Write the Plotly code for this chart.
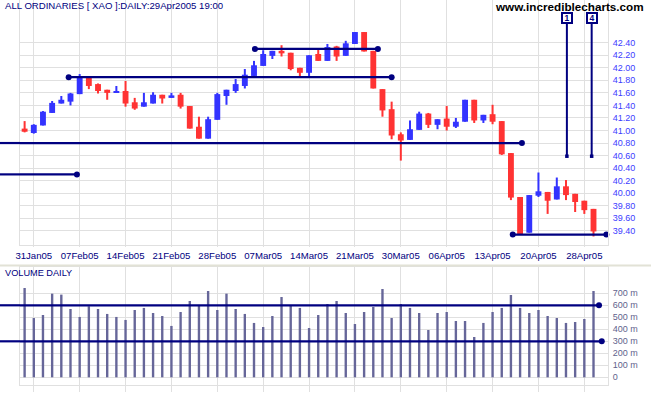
import plotly.graph_objects as go

# ---------------- data ----------------
dates = ["28Jan05", "31Jan05", "01Feb05", "02Feb05", "03Feb05", "04Feb05",
         "07Feb05", "08Feb05", "09Feb05", "10Feb05", "11Feb05",
         "14Feb05", "15Feb05", "16Feb05", "17Feb05", "18Feb05",
         "21Feb05", "22Feb05", "23Feb05", "24Feb05", "25Feb05",
         "28Feb05", "01Mar05", "02Mar05", "03Mar05", "04Mar05",
         "07Mar05", "08Mar05", "09Mar05", "10Mar05", "11Mar05",
         "14Mar05", "15Mar05", "16Mar05", "17Mar05", "18Mar05",
         "21Mar05", "22Mar05", "23Mar05", "24Mar05", "29Mar05",
         "30Mar05", "31Mar05", "01Apr05", "04Apr05", "05Apr05",
         "06Apr05", "07Apr05", "08Apr05", "11Apr05", "12Apr05",
         "13Apr05", "14Apr05", "15Apr05", "18Apr05", "19Apr05",
         "20Apr05", "21Apr05", "22Apr05", "26Apr05", "27Apr05",
         "28Apr05", "29Apr05"]

opens = [41.03, 40.96, 41.08, 41.28, 41.43, 41.46, 41.58, 41.85, 41.74, 41.65, 41.60,
         41.63, 41.45, 41.38, 41.43, 41.57, 41.52, 41.57, 41.39, 41.06, 40.87,
         41.17, 41.55, 41.63, 41.71, 41.87, 42.03, 42.19, 42.27, 42.24, 42.00,
         41.92, 42.22, 42.11, 42.34, 42.19, 42.38, 42.57, 42.27, 41.66, 41.34,
         40.94, 40.85, 41.01, 41.27, 41.09, 41.19, 41.06, 41.14, 41.49, 41.16,
         41.26, 41.15, 40.64, 39.94, 39.37, 39.96, 40.02, 39.90, 40.11, 39.99,
         39.88, 39.75]
highs = [41.15, 41.10, 41.31, 41.47, 41.55, 41.60, 41.90, 41.86, 41.75, 41.65, 41.71,
         41.79, 41.52, 41.60, 41.61, 41.57, 41.60, 41.60, 41.39, 41.22, 41.22,
         41.60, 41.65, 41.82, 41.98, 42.11, 42.28, 42.27, 42.36, 42.24, 42.00,
         42.20, 42.31, 42.38, 42.35, 42.43, 42.57, 42.57, 42.27, 41.66, 41.46,
         40.97, 41.16, 41.30, 41.28, 41.18, 41.39, 41.20, 41.49, 41.49, 41.25,
         41.41, 41.15, 40.64, 39.94, 39.97, 40.33, 40.02, 40.25, 40.21, 39.99,
         39.88, 39.75]
lows = [40.97, 40.95, 41.08, 41.28, 41.43, 41.40, 41.58, 41.66, 41.59, 41.49, 41.60,
        41.38, 41.33, 41.38, 41.43, 41.43, 41.52, 41.35, 41.03, 40.87, 40.87,
        41.17, 41.41, 41.60, 41.67, 41.86, 42.03, 42.14, 42.18, 41.96, 41.86,
        41.86, 42.11, 42.11, 42.11, 42.19, 42.38, 42.26, 41.67, 41.22, 40.86,
        40.52, 40.85, 41.01, 41.04, 41.02, 41.00, 41.04, 41.14, 41.12, 41.12,
        41.10, 40.61, 39.89, 39.34, 39.37, 39.94, 39.67, 39.90, 39.89, 39.70,
        39.67, 39.31]
closes = [40.98, 41.09, 41.30, 41.44, 41.49, 41.59, 41.86, 41.71, 41.63, 41.60, 41.62,
          41.43, 41.35, 41.45, 41.57, 41.51, 41.56, 41.38, 41.03, 40.87, 41.18,
          41.58, 41.65, 41.74, 41.89, 42.04, 42.22, 42.27, 42.23, 41.98, 41.92,
          42.20, 42.11, 42.33, 42.18, 42.39, 42.57, 42.26, 41.67, 41.32, 40.92,
          40.84, 41.02, 41.27, 41.09, 41.18, 41.06, 41.14, 41.49, 41.16, 41.25,
          41.14, 40.62, 39.93, 39.34, 39.97, 40.03, 39.88, 40.11, 39.97, 39.86,
          39.73, 39.39]
volumes_m = [744, 494, 519, 697, 689, 569, 503, 592, 569, 528, 503,
             478, 561, 578, 536, 511, 428, 544, 636, 603, 719,
             561, 697, 569, 528, 453, 419, 511, 669, 594, 578,
             411, 519, 611, 636, 536, 444, 544, 586, 736, 494,
             611, 578, 536, 394, 536, 544, 469, 469, 336, 453,
             544, 578, 686, 578, 536, 561, 511, 494, 453, 461,
             486, 719]

tick_labels = ["31Jan05", "07Feb05", "14Feb05", "21Feb05", "28Feb05", "07Mar05",
               "14Mar05", "21Mar05", "30Mar05", "06Apr05", "13Apr05", "20Apr05",
               "28Apr05"]
price_ticks = [39.40, 39.60, 39.80, 40.00, 40.20, 40.40, 40.60, 40.80,
               41.00, 41.20, 41.40, 41.60, 41.80, 42.00, 42.20, 42.40]
volume_ticks = [0, 100, 200, 300, 400, 500, 600, 700]

# trend / support lines: (price, start index, end index, dot at start, dot at end)
# start None = runs off the left edge of the chart
price_lines = [
    (40.80, None, 54.2, False, True),
    (40.30, None, 5.7, False, True),
    (41.85, 4.8, 40.0, True, True),
    (42.30, 25.1, 38.5, True, True),
    (39.34, 53.2, 63.4, True, True),
]
volume_lines = [(600, 62.6), (300, 62.9)]
# vertical markers: (index, top price, bottom price, label)
markers = [(59.1, 42.72, 40.59, "1"), (61.8, 42.72, 40.59, "4")]

# ---------------- styling ----------------
NAVY = "#000080"
UP = "#3333ff"
DOWN = "#ff3333"
GRID = "#e0e0e0"
VOLC = "#666699"
FONT = "Arial, Liberation Sans, sans-serif"

W, H = 651, 395
ML, MR, MT, MB = 20, 43, 0, 10
PW = W - ML - MR
PH = H - MT - MB

x = list(range(len(dates)))
tick_idx = [dates.index(t) for t in tick_labels]
x_range = [-0.503, 63.58]
price_range = [39.174, 43.081]
vol_range = [-64, 919]

up = [c >= o for o, c in zip(opens, closes)]
colors = [UP if u else DOWN for u in up]

fig = go.Figure()

# wicks
fig.add_trace(go.Bar(
    x=x, y=[h - l for h, l in zip(highs, lows)], base=lows,
    width=0.22, marker=dict(color=colors, line=dict(width=0)),
    xaxis="x", yaxis="y", hoverinfo="skip"))
# bodies
fig.add_trace(go.Bar(
    x=x, y=[max(abs(c - o), 0.01) for o, c in zip(opens, closes)],
    base=[min(o, c) for o, c in zip(opens, closes)],
    width=0.64, marker=dict(color=colors, line=dict(width=0)),
    xaxis="x", yaxis="y", customdata=list(zip(dates, opens, highs, lows, closes)),
    hovertemplate="%{customdata[0]}<br>O %{customdata[1]}<br>H %{customdata[2]}"
                  "<br>L %{customdata[3]}<br>C %{customdata[4]}<extra></extra>"))
# volume
fig.add_trace(go.Bar(
    x=x, y=volumes_m, width=0.26, marker=dict(color=VOLC, line=dict(width=0)),
    xaxis="x2", yaxis="y2", hovertemplate="%{y} m<extra></extra>"))

shapes = []
left_paper = -ML / PW
dot_x, dot_y = [], []
for price, x0, x1, d0, d1 in price_lines:
    if x0 is None:
        shapes.append(dict(type="line", xref="paper", yref="y", x0=left_paper, x1=0,
                           y0=price, y1=price, line=dict(color=NAVY, width=2.2)))
        x0 = x_range[0]
    shapes.append(dict(type="line", xref="x", yref="y", x0=x0, x1=x1,
                       y0=price, y1=price, line=dict(color=NAVY, width=2.2)))
    if d0:
        dot_x.append(x0); dot_y.append(price)
    if d1:
        dot_x.append(x1); dot_y.append(price)

for vol, x1 in volume_lines:
    shapes.append(dict(type="line", xref="paper", yref="y2", x0=left_paper, x1=0,
                       y0=vol, y1=vol, line=dict(color=NAVY, width=2.2)))
    shapes.append(dict(type="line", xref="x2", yref="y2", x0=x_range[0], x1=x1,
                       y0=vol, y1=vol, line=dict(color=NAVY, width=2.2)))

for xi, ytop, ybot, lab in markers:
    shapes.append(dict(type="line", xref="x", yref="y", x0=xi, x1=xi,
                       y0=ytop, y1=ybot, line=dict(color=NAVY, width=2)))

# separator band between panels
shapes.append(dict(type="rect", xref="paper", yref="paper",
                   x0=left_paper, x1=1 + MR / PW,
                   y0=(PH - 266.5) / PH, y1=(PH - 264.5) / PH,
                   fillcolor="#e2e2d6", line=dict(width=0)))
fig.update_layout(shapes=shapes)

fig.add_trace(go.Scatter(x=dot_x, y=dot_y, mode="markers", xaxis="x", yaxis="y",
                         marker=dict(color=NAVY, size=6), cliponaxis=False,
                         hoverinfo="skip"))
fig.add_trace(go.Scatter(x=[v[1] for v in volume_lines], y=[v[0] for v in volume_lines],
                         mode="markers", xaxis="x2", yaxis="y2",
                         marker=dict(color=NAVY, size=6), cliponaxis=False,
                         hoverinfo="skip"))
fig.add_trace(go.Scatter(x=[m[0] for m in markers], y=[m[2] for m in markers],
                         mode="markers", xaxis="x", yaxis="y",
                         marker=dict(color=NAVY, size=3.5, symbol="square"),
                         hoverinfo="skip"))

annotations = [
    dict(text="ALL ORDINARIES [ XAO ]:DAILY:29Apr2005 19:00", xref="paper", yref="paper",
         x=(3 - ML) / PW, y=(PH - 13) / PH, xanchor="left", yanchor="bottom",
         showarrow=False, font=dict(family=FONT, size=9.6, color=NAVY)),
    dict(text="<b>www.incrediblecharts.com</b>", xref="paper", yref="paper",
         x=(646 - ML) / PW, y=(PH - 15) / PH, xanchor="right", yanchor="bottom",
         showarrow=False, font=dict(family=FONT, size=11.7, color="#000000")),
    dict(text="VOLUME DAILY", xref="paper", yref="paper",
         x=(3 - ML) / PW, y=(PH - 273) / PH, xanchor="left", yanchor="middle",
         showarrow=False, font=dict(family=FONT, size=9.2, color=NAVY)),
]
for xi, ytop, ybot, lab in markers:
    annotations.append(dict(text="<b>" + lab + "</b>", xref="x", yref="y", x=xi, y=42.8,
                            showarrow=False, bgcolor="white", bordercolor=NAVY,
                            borderwidth=2, borderpad=0, width=8, height=8,
                            valign="middle", align="center",
                            font=dict(family=FONT, size=8.5, color=NAVY)))
fig.update_layout(annotations=annotations)

price_dom = [(PH - 245) / PH, 1.0]
vol_dom = [0.0, (PH - 267) / PH]

common_x = dict(range=x_range, tickmode="array", tickvals=tick_idx, showgrid=True,
                gridcolor=GRID, gridwidth=1, zeroline=False, showline=True,
                linecolor=GRID, mirror=True, ticks="outside",
                tickcolor=GRID, fixedrange=True, automargin=False)
fig.update_layout(
    template="none",
    width=W, height=H,
    margin=dict(l=ML, r=MR, t=MT, b=MB, autoexpand=False),
    paper_bgcolor="white", plot_bgcolor="white",
    showlegend=False, barmode="overlay", hovermode="closest",
    font=dict(family=FONT),
    xaxis=dict(**common_x, domain=[0, 1], anchor="y", ticktext=tick_labels, ticklen=1,
               tickfont=dict(family=FONT, size=9.6, color=NAVY)),
    xaxis2=dict(**common_x, domain=[0, 1], anchor="y2", showticklabels=False, ticklen=6),
    yaxis=dict(domain=price_dom, range=price_range, side="right", tickmode="array",
               tickvals=price_ticks, ticktext=["%.2f" % v for v in price_ticks],
               showgrid=True, gridcolor=GRID, zeroline=False, showline=True,
               linecolor=GRID, mirror=True, ticks="outside", ticklen=2,
               tickcolor="rgba(0,0,0,0)", automargin=False,
               tickfont=dict(family=FONT, size=9, color="#3c3cff"), fixedrange=True),
    yaxis2=dict(domain=vol_dom, range=vol_range, side="right", tickmode="array",
                tickvals=volume_ticks,
                ticktext=[("%d m" % v) if v else "0" for v in volume_ticks],
                showgrid=True, gridcolor=GRID, zeroline=False, showline=True,
                linecolor=GRID, mirror=True, ticks="outside", ticklen=2,
                tickcolor="rgba(0,0,0,0)", automargin=False,
                tickfont=dict(family=FONT, size=9, color="#5f5f8c"), fixedrange=True),
)

fig.write_html("out.html", config={"displayModeBar": False},
               post_script="document.body.style.margin='0';"
                           "document.body.style.overflow='hidden';")
